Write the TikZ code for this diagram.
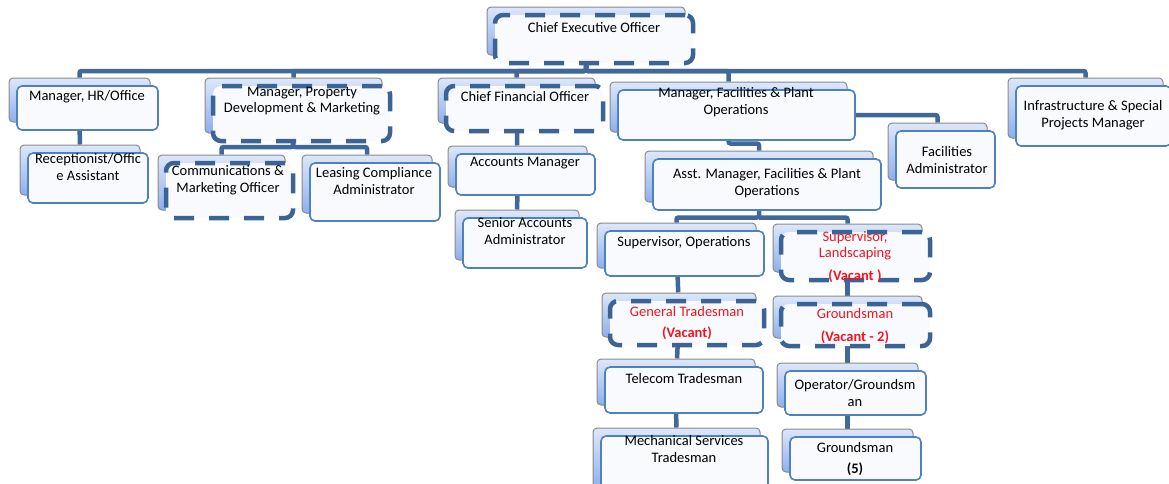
\documentclass[tikz,border=0pt]{standalone}
\usepackage{fontspec}
\setmainfont{Carlito}
\usetikzlibrary{fit}
\usetikzlibrary{backgrounds}
\definecolor{bxlight}{HTML}{DDE7FA}
\definecolor{bxdark}{HTML}{8EAFEC}
\definecolor{bxline}{HTML}{8A8A8A}
\definecolor{frline}{HTML}{4F81BD}
\definecolor{frfill}{HTML}{F8FAFE}
\definecolor{vline}{HTML}{3B6495}
\definecolor{lnkcol}{HTML}{40689A}
\definecolor{vred}{HTML}{F2141E}
\tikzset{back/.style={draw=bxline,line width=1pt,rounded corners=4pt,top color=bxlight,bottom color=bxdark,inner sep=0pt}}
\tikzset{front/.style={draw=frline,line width=1.6pt,rounded corners=5pt,fill=frfill,inner sep=0pt}}
\tikzset{vac/.style={draw=vline,line width=4.5pt,rounded corners=8pt,fill=frfill,inner sep=0pt,dash pattern=on 20pt off 15pt}}
\tikzset{lnk/.style={draw=lnkcol,line width=4.5pt,rounded corners=2pt}}
\tikzset{txt/.style={align=center,inner sep=0pt,font=\fontsize{14.5}{16.5}\selectfont}}
\tikzset{vtxt/.style={txt,text=vred}}

\begin{document}
\begin{tikzpicture}[x=1pt,y=-1pt]
\useasboundingbox (0,0) rectangle (1169,483);
\clip (0,0) rectangle (1169,483);

\foreach \n/\xa/\ya/\xb/\yb/\s in {
  ceo/487/7/685/55/vac, hr/9/78/150/122/front, rec/20/145/140/195/front,
  prop/205/78/382/133/vac, comm/158/155/285/210/vac, lease/302/155/432/213/front,
  cfo/438/78/595/123/vac, acc/448/146/587/187/front, sen/455/210/579/260/front,
  fac/610/82/847/132/front, fadm/888/123/987/180/front, infra/1008/78/1163/138/front,
  asst/645/151/873/202/front, supo/597/223/756/268/front, land/773/224/922/272/vac,
  gen/602/293/756/337/vac, gvac/773/296/922/338/vac, tel/597/359/755/405/front,
  mech/593/428/760/490/front, oper/777/363/918/407/front, g5/782/429/913/472/front}
{
  \node[back, fit={(\xa,\ya) (\xb,\yb)}] (\n-b) {};
  \node[\s, fit={([shift={(8,8)}]\xa,\ya) ([shift={(8,8)}]\xb,\yb)}] (\n) {};
}

\node[txt] (ceo-t) at (594,28) {Chief Executive Officer};
\node[txt] (hr-t) at (87,97) {Manager, HR/Office};
\node[txt] (rec-t) at (88,167) {Receptionist/Offic\\e Assistant};
\node[txt] (prop-t) at (302,101) {Manager, Property\\Development \& Marketing};
\node[txt] (comm-t) at (228,180) {Communications \&\\Marketing Officer};
\node[txt] (lease-t) at (374,181) {Leasing Compliance\\Administrator};
\node[txt] (cfo-t) at (525,97) {Chief Financial Officer};
\node[txt] (acc-t) at (525,163) {Accounts Manager};
\node[txt] (sen-t) at (525,231) {Senior Accounts\\Administrator};
\node[txt] (fac-t) at (736,102) {Manager, Facilities \& Plant\\Operations};
\node[txt] (fadm-t) at (947,160) {Facilities\\Administrator};
\node[txt] (infra-t) at (1093,115) {Infrastructure \& Special\\Projects Manager};
\node[txt] (asst-t) at (767,183) {Asst. Manager, Facilities \& Plant\\Operations};
\node[txt] (supo-t) at (684,243) {Supervisor, Operations};
\node[vtxt] (land-t) at (855,257) {Supervisor,\\Landscaping\\[6pt]\textbf{(Vacant )}};
\node[vtxt] (gen-t) at (687,323) {General Tradesman\\[5pt]\textbf{(Vacant)}};
\node[vtxt] (gvac-t) at (855,326) {Groundsman\\[6pt]\textbf{(Vacant - 2)}};
\node[txt] (tel-t) at (684,379) {Telecom Tradesman};
\node[txt] (mech-t) at (684,449) {Mechanical Services\\Tradesman};
\node[txt] (oper-t) at (855,393) {Operator/Groundsm\\an};
\node[txt] (g5-t) at (855,459) {Groundsman\\[5pt]\textbf{(5)}};

\begin{scope}[on background layer]
\coordinate (bus) at (586,71);
\foreach \n in {hr,prop,cfo,fac,infra}
  \draw[lnk] (ceo-b.south) -- (bus) -| (\n-b.north);
\draw[lnk] (hr-b) -- (rec-b);
\coordinate (pbus) at (293,147);
\foreach \n in {comm,lease}
  \draw[lnk] (prop-b.south) -- (pbus) -| (\n-b.north);
\draw[lnk] (cfo-b) -- (acc-b) -- (sen-b);
\draw[lnk] (fac-b.south) -- ++(0,11) -| (asst-b.north);
\draw[lnk] (fac) -| (fadm-b.north);
\draw[lnk] (asst-b.south) -- ++(0,15) coordinate (abus) -| (supo-b.north);
\draw[lnk] (abus) -| (land-b.north);
\draw[lnk] (supo-b) -- (gen-b) -- (tel-b) -- (mech-b);
\draw[lnk] (land-b) -- (gvac-b) -- (oper-b) -- (g5-b);
\end{scope}
\end{tikzpicture}
\end{document}
